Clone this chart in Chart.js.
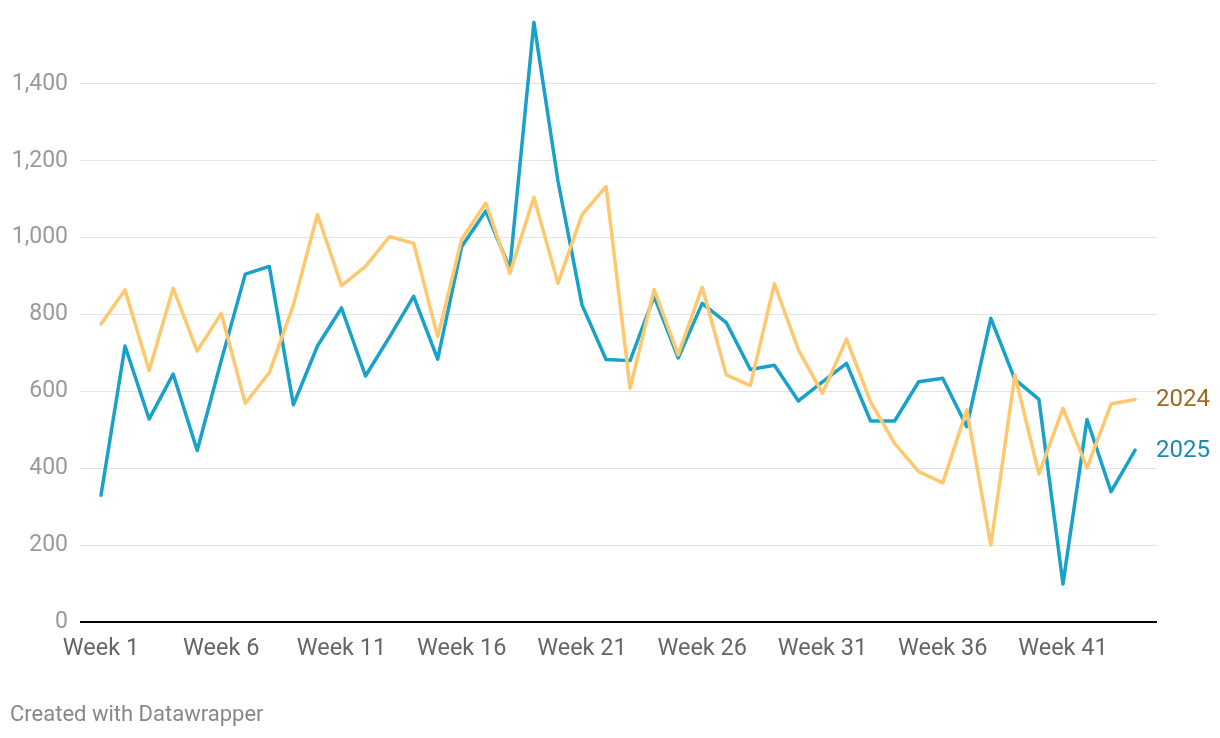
<!DOCTYPE html>
<html>
<head>
<meta charset="utf-8">
<script src="https://cdn.jsdelivr.net/npm/chart.js@4/dist/chart.umd.min.js"></script>
<style>
  html, body { margin: 0; padding: 0; background: #fff; }
  #wrap { position: relative; width: 1220px; height: 738px; }
  #footer { position: absolute; left: 10px; top: 701px; font-family: Roboto, sans-serif; font-size: 22px; color: #888; }
</style>
</head>
<body>
<div id="wrap">
  <canvas id="c" width="1220" height="738"></canvas>
  <div id="footer">Created with Datawrapper</div>
</div>
<script>
const weeks = Array.from({length: 44}, (_, i) => i + 1);
const xTickWeeks = [1, 6, 11, 16, 21, 26, 31, 36, 41];
const yTicks = [0, 200, 400, 600, 800, 1000, 1200, 1400];
const series2024 = [775, 864, 654, 868, 705, 803, 569, 649, 825, 1060,
                    875, 925, 1003, 985, 742, 996, 1090, 907, 1105, 881,
                    1060, 1133, 608, 865, 695, 871, 643, 615, 880, 708,
                    595, 736, 573, 465, 391, 362, 552, 200, 643, 385,
                    556, 401, 567, 579];
const series2025 = [330, 718, 528, 645, 446, 680, 905, 925, 565, 718,
                    817, 640, 742, 847, 684, 977, 1069, 920, 1560, 1148,
                    825, 683, 680, 847, 687, 829, 779, 657, 668, 575,
                    625, 673, 523, 523, 625, 634, 508, 790, 631, 579,
                    99, 527, 339, 447];

const COL24 = '#ffc86e', COL25 = '#18a1c9';
const LBL24 = '#9b6b1e', LBL25 = '#1a8ab0';

const endLabels = {
  id: 'endLabels',
  afterDatasetsDraw(chart) {
    const ctx = chart.ctx;
    const xs = chart.scales.x, ys = chart.scales.y;
    ctx.save();
    ctx.font = '24px Roboto';
    ctx.textBaseline = 'middle';
    ctx.textAlign = 'left';
    chart.data.datasets.forEach(ds => {
      const last = ds.data[ds.data.length - 1];
      const px = xs.right - 1;
      const py = ys.getPixelForValue(last.y);
      ctx.fillStyle = ds.labelColor;
      ctx.fillText(ds.label, px, py + 1);
    });
    ctx.restore();
  }
};

const zeroLine = {
  id: 'zeroLine',
  beforeDatasetsDraw(chart) {
    const ctx = chart.ctx;
    const xs = chart.scales.x, ys = chart.scales.y;
    const y = Math.round(ys.getPixelForValue(0));
    ctx.save();
    ctx.strokeStyle = '#000';
    ctx.lineWidth = 2;
    ctx.beginPath();
    ctx.moveTo(xs.left, y);
    ctx.lineTo(xs.right, y);
    ctx.stroke();
    ctx.restore();
  }
};

new Chart(document.getElementById('c'), {
  type: 'line',
  data: {
    datasets: [
      { label: '2024', data: weeks.map((w, i) => ({x: w, y: series2024[i]})),
        borderColor: COL24, labelColor: LBL24, borderWidth: 3.5, pointRadius: 0, tension: 0, clip: false,
        borderJoinStyle: 'round', borderCapStyle: 'round' },
      { label: '2025', data: weeks.map((w, i) => ({x: w, y: series2025[i]})),
        borderColor: COL25, labelColor: LBL25, borderWidth: 3.5, pointRadius: 0, tension: 0, clip: false,
        borderJoinStyle: 'round', borderCapStyle: 'round' }
    ]
  },
  options: {
    responsive: false,
    devicePixelRatio: 1,
    animation: false,
    layout: { padding: { top: 7, right: 63, left: 0, bottom: 0 } },
    plugins: { legend: { display: false }, tooltip: { enabled: false } },
    scales: {
      x: {
        type: 'linear',
        min: 0.127, max: 44.91,
        afterBuildTicks(scale) { scale.ticks = xTickWeeks.map(v => ({value: v})); },
        afterFit(scale) { scale.height = 116; scale.paddingLeft = 0; scale.paddingRight = 0; },
        grid: { display: false, drawTicks: false },
        border: { display: false },
        ticks: {
          autoSkip: false, maxRotation: 0, padding: 13,
          color: '#666', font: { family: 'Roboto', size: 23.5 },
          callback: v => 'Week ' + v
        }
      },
      y: {
        min: 0, max: 1600,
        afterBuildTicks(scale) { scale.ticks = yTicks.map(v => ({value: v})); },
        afterFit(scale) { scale.width = 80; scale.paddingTop = 0; scale.paddingBottom = 0; },
        grid: { color: '#e3e3e3', lineWidth: 1, drawTicks: false },
        border: { display: false },
        ticks: {
          padding: 12, color: '#9a9a9a', font: { family: 'Roboto', size: 23 },
          callback: v => v.toLocaleString('en-US')
        }
      }
    }
  },
  plugins: [zeroLine, endLabels]
});
</script>
</body>
</html>
